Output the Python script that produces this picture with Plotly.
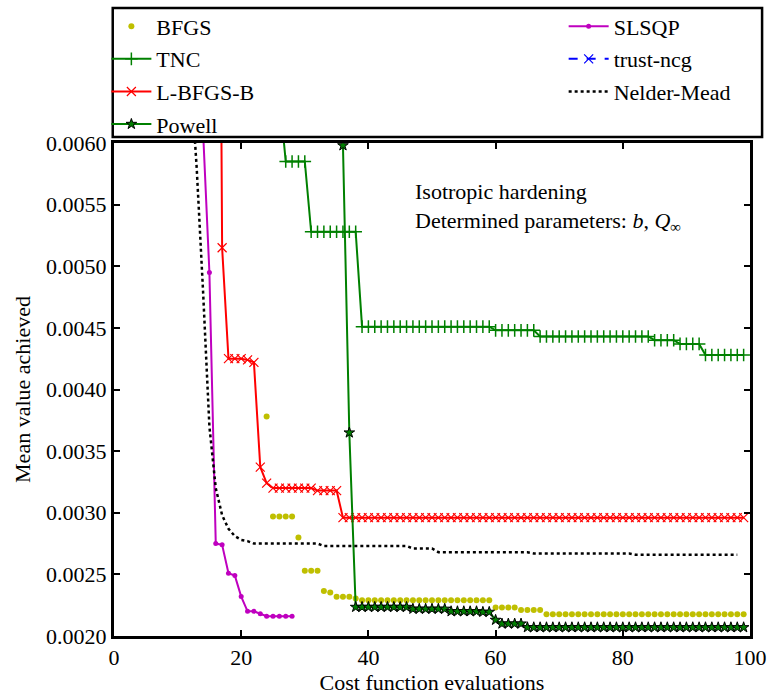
import plotly.graph_objects as go

# ---------------- data ----------------
bfgs_x = list(range(24, 100))
bfgs_y = [0.00378,
          0.00297, 0.00297, 0.00297, 0.00297,
          0.00280,
          0.00253, 0.00253, 0.00253,
          0.002366, 0.002353,
          0.002318, 0.002318, 0.002318,
          0.002304,
          0.00229, 0.00229, 0.00229, 0.00229, 0.00229, 0.00229, 0.00229,
          0.00229, 0.00229, 0.00229, 0.00229, 0.00229, 0.00229, 0.00229,
          0.00229, 0.00229, 0.00229, 0.00229, 0.00229, 0.00229, 0.00229,
          0.002231, 0.002231, 0.002231, 0.002231,
          0.00221, 0.00221, 0.00221, 0.00221,
          0.002177, 0.002177, 0.002177, 0.002177, 0.002177, 0.002177, 0.002177, 0.002177,
          0.002177, 0.002177, 0.002177, 0.002177, 0.002177, 0.002177, 0.002177, 0.002177,
          0.002177, 0.002177, 0.002177, 0.002177, 0.002177, 0.002177, 0.002177, 0.002177,
          0.002177, 0.002177, 0.002177, 0.002177, 0.002177, 0.002177, 0.002177, 0.002177]

tnc_x = list(range(26, 100))
tnc_y = [0.0064,
         0.00585, 0.00585, 0.00585, 0.00585,
         0.00528, 0.00528, 0.00528, 0.00528, 0.00528, 0.00528, 0.00528, 0.00528,
         0.00451, 0.00451, 0.00451, 0.00451, 0.00451, 0.00451, 0.00451,
         0.00451, 0.00451, 0.00451, 0.00451, 0.00451, 0.00451, 0.00451,
         0.00451, 0.00451, 0.00451, 0.00451, 0.00451, 0.00451, 0.00451,
         0.00448, 0.00448, 0.00448, 0.00448, 0.00448, 0.00448, 0.00448,
         0.00443, 0.00443, 0.00443, 0.00443, 0.00443, 0.00443, 0.00443, 0.00443, 0.00443,
         0.00443, 0.00443, 0.00443, 0.00443, 0.00443, 0.00443, 0.00443, 0.00443, 0.00443,
         0.00440, 0.00440, 0.00440, 0.00440,
         0.00437, 0.00437, 0.00437, 0.00437,
         0.00428, 0.00428, 0.00428, 0.00428, 0.00428, 0.00428, 0.00428]

lbfgsb_x = list(range(16, 100))
lbfgsb_y = [0.0136, 0.00515,
            0.00425, 0.00425, 0.00425, 0.00424, 0.00422,
            0.00337, 0.00324,
            0.00320, 0.00320, 0.00320, 0.00320, 0.00320, 0.00320, 0.00320,
            0.00318, 0.00318, 0.00318, 0.00318,
            0.00296, 0.00296, 0.00296, 0.00296, 0.00296, 0.00296, 0.00296, 0.00296,
            0.00296, 0.00296, 0.00296, 0.00296, 0.00296, 0.00296, 0.00296, 0.00296,
            0.00296, 0.00296, 0.00296, 0.00296, 0.00296, 0.00296, 0.00296, 0.00296,
            0.00296, 0.00296, 0.00296, 0.00296, 0.00296, 0.00296, 0.00296, 0.00296,
            0.00296, 0.00296, 0.00296, 0.00296, 0.00296, 0.00296, 0.00296, 0.00296,
            0.00296, 0.00296, 0.00296, 0.00296, 0.00296, 0.00296, 0.00296, 0.00296,
            0.00296, 0.00296, 0.00296, 0.00296, 0.00296, 0.00296, 0.00296, 0.00296,
            0.00296, 0.00296, 0.00296, 0.00296, 0.00296, 0.00296, 0.00296, 0.00296]

powell_x = list(range(36, 100))
powell_y = [0.00598, 0.00365,
            0.002235, 0.002235, 0.002235, 0.002235, 0.002235, 0.002235, 0.002235, 0.002235, 0.002235,
            0.00222, 0.00222, 0.00222, 0.00222, 0.00222, 0.00222,
            0.00220, 0.00220, 0.00220, 0.00220, 0.00220,
            0.002195, 0.002195,
            0.00213,
            0.00210, 0.00210, 0.00210, 0.00210,
            0.00207, 0.00207, 0.00207, 0.00207, 0.00207, 0.00207, 0.00207,
            0.00207, 0.00207, 0.00207, 0.00207, 0.00207, 0.00207, 0.00207,
            0.00207, 0.00207, 0.00207, 0.00207, 0.00207, 0.00207, 0.00207,
            0.00207, 0.00207, 0.00207, 0.00207, 0.00207, 0.00207, 0.00207,
            0.00207, 0.00207, 0.00207, 0.00207, 0.00207, 0.00207, 0.00207]

slsqp_x = list(range(14, 29))
slsqp_y = [0.0061, 0.00495, 0.00275, 0.00274, 0.00251, 0.00249, 0.00232,
           0.00220, 0.00220, 0.00218, 0.00216, 0.00216, 0.00216, 0.00216, 0.00216]

# trust-ncg is listed in the legend but has no visible points in the plotted window
trustncg_x = [None]
trustncg_y = [None]

nm_x = list(range(12, 99))
nm_y = [0.0066, 0.0058, 0.0048, 0.0037, 0.0032, 0.00298, 0.00287, 0.00281, 0.00278, 0.00277,
        0.00275, 0.00275, 0.00275, 0.00275, 0.00275, 0.00275, 0.00275, 0.00275, 0.00275, 0.00275, 0.00275,
        0.00273, 0.00273, 0.00273, 0.00273, 0.00273, 0.00273, 0.00273,
        0.00273, 0.00273, 0.00273, 0.00273, 0.00273, 0.00273, 0.00273,
        0.00271, 0.00271, 0.00271, 0.00271,
        0.00268, 0.00268, 0.00268, 0.00268, 0.00268, 0.00268, 0.00268, 0.00268,
        0.00268, 0.00268, 0.00268, 0.00268, 0.00268, 0.00268, 0.00268,
        0.00267, 0.00267, 0.00267, 0.00267, 0.00267, 0.00267, 0.00267, 0.00267,
        0.00267, 0.00267, 0.00267, 0.00267, 0.00267, 0.00267, 0.00267, 0.00267,
        0.00266, 0.00266, 0.00266, 0.00266, 0.00266, 0.00266, 0.00266, 0.00266, 0.00266,
        0.00266, 0.00266, 0.00266, 0.00266, 0.00266, 0.00266, 0.00266, 0.00266]

x_ticks = [0, 20, 40, 60, 80, 100]
y_ticks = [0.0020, 0.0025, 0.0030, 0.0035, 0.0040, 0.0045, 0.0050, 0.0055, 0.0060]

FONT = "Liberation Serif, Times New Roman, DejaVu Serif, serif"
YELLOW = "#BFBF00"
GREEN = "#008000"
RED = "#FF0000"
MAGENTA = "#BF00BF"
BLUE = "#0000FF"

fig = go.Figure()

fig.add_trace(go.Scatter(x=bfgs_x, y=bfgs_y, name="BFGS", mode="markers",
                         legend="legend", legendgroup="g1",
                         marker=dict(symbol="circle", size=6, color=YELLOW)))
fig.add_trace(go.Scatter(x=tnc_x, y=tnc_y, name="TNC", mode="lines+markers",
                         legend="legend", legendgroup="g2",
                         line=dict(color=GREEN, width=2),
                         marker=dict(symbol="cross-thin", size=9, color=GREEN,
                                     line=dict(color=GREEN, width=1.5))))
fig.add_trace(go.Scatter(x=lbfgsb_x, y=lbfgsb_y, name="L-BFGS-B", mode="lines+markers",
                         legend="legend", legendgroup="g3",
                         line=dict(color=RED, width=2),
                         marker=dict(symbol="x-thin", size=9, color=RED,
                                     line=dict(color=RED, width=1.2))))
fig.add_trace(go.Scatter(x=powell_x, y=powell_y, name="Powell", mode="lines+markers",
                         legend="legend", legendgroup="g4",
                         line=dict(color=GREEN, width=2),
                         marker=dict(symbol="star", size=8, color=GREEN,
                                     line=dict(color="black", width=1))))
fig.add_trace(go.Scatter(x=slsqp_x, y=slsqp_y, name="SLSQP", mode="lines+markers",
                         legend="legend2", legendgroup="g5",
                         line=dict(color=MAGENTA, width=2),
                         marker=dict(symbol="circle", size=5, color=MAGENTA)))
fig.add_trace(go.Scatter(x=trustncg_x, y=trustncg_y, name="trust-ncg", mode="lines+markers",
                         legend="legend2", legendgroup="g6",
                         line=dict(color=BLUE, width=2, dash="dash"),
                         marker=dict(symbol="x-thin", size=9, color=BLUE,
                                     line=dict(color=BLUE, width=1.2))))
fig.add_trace(go.Scatter(x=nm_x, y=nm_y, name="Nelder-Mead", mode="lines",
                         legend="legend2", legendgroup="g7",
                         line=dict(color="black", width=2.5, dash="dot")))

axis_common = dict(showgrid=False, zeroline=False, showline=True, linecolor="black",
                   linewidth=3, mirror="ticks", ticks="inside", ticklen=6, tickwidth=1.5,
                   tickcolor="black", automargin=False,
                   tickfont=dict(family=FONT, size=22, color="black"))

fig.update_xaxes(range=[0, 100], tickvals=x_ticks,
                 title=dict(text="Cost function evaluations",
                            font=dict(family=FONT, size=22, color="black"), standoff=2),
                 **axis_common)
fig.update_yaxes(range=[0.002, 0.006], tickvals=y_ticks, tickformat=".4f",
                 title=dict(text="Mean value achieved",
                            font=dict(family=FONT, size=22, color="black"), standoff=10),
                 **axis_common)

fig.add_annotation(xref="paper", yref="paper", x=0.47, y=0.932, xanchor="left", yanchor="top",
                   align="left", showarrow=False,
                   text="Isotropic hardening<br>Determined parameters: <i>b</i>, <i>Q</i><sub>∞</sub>",
                   font=dict(family=FONT, size=22, color="black"))

# legend frame
fig.add_shape(type="rect", xref="paper", yref="paper", x0=-0.002, x1=1.019, y0=1.012, y1=1.274,
              line=dict(color="black", width=2.5), fillcolor="rgba(0,0,0,0)", layer="above")

legend_common = dict(orientation="v", yanchor="top", xanchor="left", itemwidth=40,
                     bgcolor="rgba(0,0,0,0)", borderwidth=0, tracegroupgap=1,
                     font=dict(family=FONT, size=22, color="black"))

fig.update_layout(
    width=778, height=695,
    margin=dict(l=114, r=28, t=143, b=59, autoexpand=False),
    paper_bgcolor="white", plot_bgcolor="white",
    showlegend=True,
    legend=dict(x=-0.012, y=1.279, **legend_common),
    legend2=dict(x=0.707, y=1.279, **legend_common),
    font=dict(family=FONT, size=22, color="black"),
)

fig.write_html("out.html", config={"displayModeBar": False},
               post_script="document.body.style.margin='0px';")
